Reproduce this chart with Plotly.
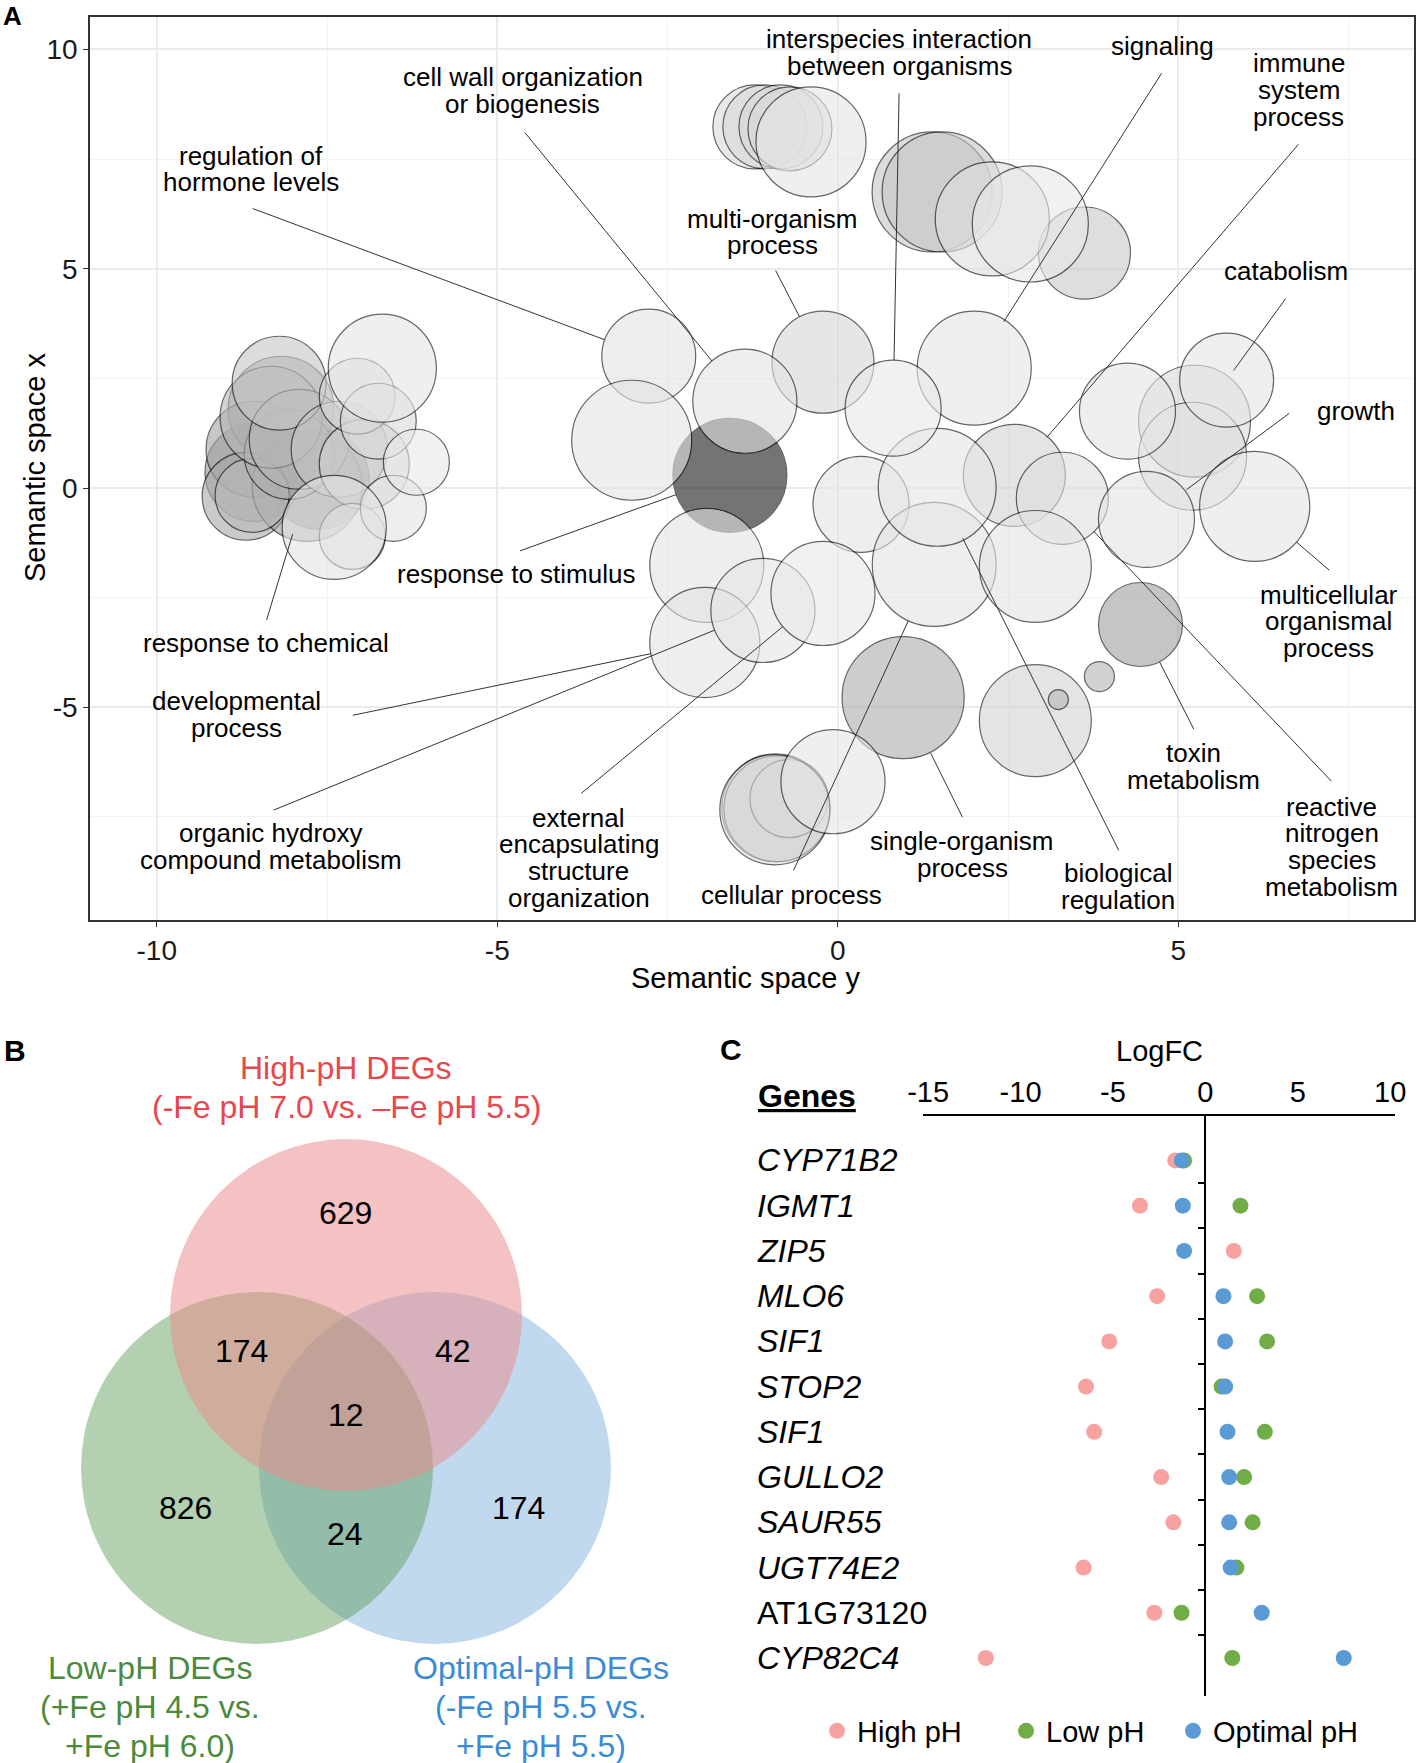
import plotly.graph_objects as go

W, H = 1418, 1763
FONT = "Liberation Sans, Arial, Helvetica, sans-serif"

# ---------------- Panel A data (REVIGO semantic space) ----------------
term_ids = ["B17", "L16", "L9", "B33", "B38", "L3", "L8", "L10", "L12", "B6", "B7", "L11", "L20", "B10",
            "L4", "L17", "B39", "L2", "L18", "B25", "B35", "B36", "B37", "B40", "B1", "B2", "B3", "B4",
            "B14", "L19", "B30", "B42", "L5", "L6", "B8", "B26", "B32", "B41", "L14", "L15", "B11", "B12",
            "B13", "B18", "B19", "B22", "B24", "B27", "B34", "L1", "L13", "B5", "B16", "B20", "B23", "B28",
            "B29", "B31", "B43", "B9", "B15", "B21", "L7"]
sem_space_y = [-1.585, -7.615, -8.571, 0.959, 4.444, -8.174, -8.571, -8.688, -7.791, 1.385, 1.532, -8.600,
               -8.056, 3.621, -8.321, -7.909, -0.909, -8.203, -7.321, 2.591, 2.900, 3.238, 3.841, -0.894,
               -1.218, -1.071, -0.835, -0.703, -0.218, -6.953, 5.238, -0.718, -7.056, -6.747, 2.268, 3.297,
               5.209, -0.924, -7.129, -6.526, -2.776, -3.026, -1.365, -1.924, -1.953, 0.341, 1.415, 4.532,
               2.900, -6.688, -7.394, -0.394, 2.003, -1.100, 1.459, 6.121, 4.253, 5.709, -0.071, 2.826,
               0.812, -0.218, -6.188]
sem_space_x = [0.290, 0.199, 0.358, -4.779, -3.112, 1.797, 0.884, -0.189, 0.039, 6.751, 6.751, -0.167,
               0.769, 5.358, 1.614, 1.112, -7.290, 2.390, 0.884, 0.290, -5.304, -4.824, -4.299, -7.313,
               8.235, 8.235, 8.235, 8.190, 2.870, 0.541, 1.523, -7.084, 2.094, 1.523, 6.135, -0.235,
               0.724, -7.336, -1.103, -0.463, 3.007, 1.089, 1.979, -1.765, -3.523, -0.372, -1.742, -0.715,
               -1.788, 2.733, -0.897, 7.893, 2.733, -2.792, 0.016, -0.418, 1.751, 2.459, -6.696, 6.021,
               1.820, -2.404, 0.587]
log_size = [3.80, 3.33, 3.27, 4.07, 2.80, 3.53, 3.20, 2.93, 3.67, 4.00, 4.00, 2.47, 3.00, 3.07, 3.40,
            3.33, 3.60, 3.13, 3.20, 3.40, 3.73, 0.67, 1.00, 3.53, 2.80, 2.80, 2.80, 2.80, 3.40, 3.00,
            3.73, 2.60, 2.53, 2.53, 3.80, 3.07, 3.60, 3.67, 2.20, 2.20, 3.13, 4.00, 3.47, 3.80, 3.67,
            3.20, 4.13, 3.20, 3.73, 3.60, 3.47, 3.67, 3.80, 3.47, 3.93, 3.67, 3.20, 3.13, 3.47, 3.87,
            3.20, 3.47, 2.20]
log10_pvalue = [-12.0, -7.00, -5.50, -4.30, -5.00, -4.50, -4.80, -4.50, -5.00, -3.00, -3.00, -3.50,
                -4.20, -2.80, -3.80, -3.80, -2.92, -3.00, -3.00, -2.25, -2.25, -3.80, -3.90, -2.50,
                -1.92, -1.92, -1.92, -1.92, -2.09, -2.40, -1.92, -2.25, -2.00, -1.90, -1.67, -1.67,
                -1.67, -1.67, -1.60, -1.42, -1.42, -1.42, -1.42, -1.42, -1.42, -1.42, -1.42, -1.42,
                -1.42, -1.25, -1.35, -1.25, -1.25, -1.25, -1.25, -1.25, -1.25, -1.25, -1.25, -1.09,
                -1.09, -1.09, -1.09]

# term labels: text lines, label centre, leader-line start, target bubble, gap at bubble (px)
go_labels = [
    dict(text=["regulation of", "hormone levels"], pos=(-8.615, 7.276), tail=(-8.615, 6.386), target="B11", gap=47),
    dict(text=["cell wall organization", "or biogenesis"], pos=(-4.629, 9.057), tail=(-4.615, 8.144), target="B13", gap=52),
    dict(text=["multi-organism", "process"], pos=(-0.953, 5.838), tail=(-0.924, 4.993), target="B14", gap=51),
    dict(text=["interspecies interaction", "between organisms"], pos=(0.900, 9.925), tail=(0.900, 9.034), target="B15", gap=48),
    dict(text=["signaling"], pos=(4.768, 10.084), tail=(4.768, 9.491), target="B16", gap=55),
    dict(text=["immune", "system", "process"], pos=(6.768, 9.080), tail=(6.782, 7.870), target="B25", gap=50),
    dict(text=["catabolism"], pos=(6.576, 4.947), tail=(6.591, 4.354), target="B31", gap=12),
    dict(text=["growth"], pos=(7.606, 1.751), tail=(6.650, 1.728), target="B27", gap=50),
    dict(text=["multicellular", "organismal", "process"], pos=(7.209, -3.043), tail=(7.238, -1.902), target="B28", gap=55),
    dict(text=["toxin", "metabolism"], pos=(5.224, -6.354), tail=(5.238, -5.532), target="B38", gap=42),
    dict(text=["reactive", "nitrogen", "species", "metabolism"], pos=(7.253, -8.180), tail=(7.268, -6.719), target="B26", gap=46),
    dict(text=["biological", "regulation"], pos=(4.121, -9.094), tail=(4.135, -8.295), target="B23", gap=57),
    dict(text=["single-organism", "process"], pos=(1.826, -8.363), tail=(1.841, -7.541), target="B33", gap=62),
    dict(text=["cellular process"], pos=(-0.674, -9.276), tail=(-0.659, -8.751), target="B24", gap=62),
    dict(text=["external", "encapsulating", "structure", "organization"], pos=(-3.806, -8.432), tail=(-3.791, -6.993), target="B21", gap=52),
    dict(text=["organic hydroxy", "compound metabolism"], pos=(-8.321, -8.180), tail=(-8.306, -7.358), target="B20", gap=52),
    dict(text=["developmental", "process"], pos=(-8.835, -5.167), tail=(-7.144, -5.189), target="B19", gap=55),
    dict(text=["response to chemical"], pos=(-8.394, -3.523), tail=(-8.394, -3.043), target="L12", gap=50),
    dict(text=["response to stimulus"], pos=(-4.718, -1.970), tail=(-4.688, -1.445), target="B17", gap=57),
]

# ---------------- Panel B data (Venn) ----------------
venn_counts = {"high": 629, "high_low": 174, "high_opt": 42, "all": 12,
               "low": 826, "low_opt": 24, "opt": 174}
venn_titles = {
    "high": ["High-pH DEGs", "(-Fe pH 7.0 vs. \u2013Fe pH 5.5)"],
    "low": ["Low-pH DEGs", "(+Fe pH 4.5 vs.", "+Fe pH 6.0)"],
    "opt": ["Optimal-pH DEGs", "(-Fe pH 5.5 vs.", "+Fe pH 5.5)"],
}

# ---------------- Panel C data (LogFC) ----------------
genes = ["CYP71B2", "IGMT1", "ZIP5", "MLO6", "SIF1", "STOP2", "SIF1", "GULLO2", "SAUR55", "UGT74E2",
         "AT1G73120", "CYP82C4"]
gene_italic = [True, True, True, True, True, True, True, True, True, True, False, True]
logfc_high = [-1.63, -3.54, 1.54, -2.61, -5.20, -6.46, -6.02, -2.39, -1.73, -6.59, -2.76, -11.88]
logfc_low = [-1.15, 1.90, None, 2.80, 3.34, 0.88, 3.22, 2.10, 2.56, 1.68, -1.29, 1.46]
logfc_opt = [-1.27, -1.22, -1.15, 0.98, 1.07, 1.07, 1.20, 1.29, 1.29, 1.37, 3.05, 7.49]

# ---------------- layout helpers ----------------
def px(x):
    return x / W


def py(y):
    return 1 - y / H


fig = go.Figure()

# ---- Panel A bubbles ----
fig.add_trace(go.Scatter(
    x=sem_space_y, y=sem_space_x, mode="markers", xaxis="x", yaxis="y",
    marker=dict(size=log_size, sizemode="diameter", sizeref=1 / 30,
                color=log10_pvalue, cmin=-12, cmax=-1,
                colorscale=[[0, "rgb(25,25,25)"], [1, "rgb(235,235,235)"]],
                opacity=0.6, line=dict(color="black", width=1.2)),
    showlegend=False, hoverinfo="skip"))

annotations = []
LH = 26.7
for lab in go_labels:
    n = len(lab["text"])
    for i, line in enumerate(lab["text"]):
        annotations.append(dict(x=lab["pos"][0], y=lab["pos"][1], xref="x", yref="y", text=line,
                                showarrow=False, yshift=((n - 1) / 2 - i) * LH,
                                font=dict(size=26, color="black", family=FONT),
                                xanchor="center", yanchor="middle"))
    k = term_ids.index(lab["target"])
    annotations.append(dict(x=sem_space_y[k], y=sem_space_x[k], xref="x", yref="y",
                            ax=lab["tail"][0], ay=lab["tail"][1], axref="x", ayref="y",
                            text="", showarrow=True, arrowhead=0, arrowwidth=1,
                            arrowcolor="#333333", standoff=lab["gap"]))

# axis titles and panel letter (A)
annotations += [
    dict(x=px(746), y=py(978), xref="paper", yref="paper", text="Semantic space y", showarrow=False,
         xanchor="center", yanchor="middle", font=dict(size=29, color="black")),
    dict(x=px(35), y=py(468), xref="paper", yref="paper", text="Semantic space x", showarrow=False,
         xanchor="center", yanchor="middle", textangle=-90, font=dict(size=29, color="black")),
    dict(x=px(1), y=py(16), xref="paper", yref="paper", text="<b>A</b>", showarrow=False,
         xanchor="left", yanchor="middle", font=dict(size=26, color="black")),
]

# ---- Panel B: Venn ----
venn_circles = [  # (set, centre x, centre y, radius) in panel pixels, drawn bottom-up
    ("opt", 435, 1468, 176, "rgba(131,179,223,0.5)"),
    ("low", 257, 1468, 176, "rgba(97,159,93,0.48)"),
    ("high", 346, 1315, 176, "rgba(234,138,138,0.52)"),
]
shapes = []
for name, cx, cy, r, col in venn_circles:
    shapes.append(dict(type="circle", xref="x2", yref="y2", x0=cx - r, x1=cx + r, y0=cy - r, y1=cy + r,
                       fillcolor=col, line=dict(width=0), layer="below"))

count_pos = {"high": (345, 1213), "high_low": (241, 1351), "high_opt": (453, 1351), "all": (346, 1415),
             "low": (185, 1508), "low_opt": (345, 1534), "opt": (518, 1508)}
for key, val in venn_counts.items():
    annotations.append(dict(x=count_pos[key][0], y=count_pos[key][1], xref="x2", yref="y2",
                            text=str(val), showarrow=False, xanchor="center", yanchor="middle",
                            font=dict(size=32, color="black")))

title_pos = {"high": (346, 1068), "low": (150, 1668), "opt": (541, 1668)}
title_col = {"high": "#E8474D", "low": "#4B8A3D", "opt": "#3B8AD6"}
for key, lines in venn_titles.items():
    for i, line in enumerate(lines):
        annotations.append(dict(x=title_pos[key][0], y=title_pos[key][1] + i * 39, xref="x2", yref="y2",
                                text=line, showarrow=False, xanchor="center", yanchor="middle",
                                font=dict(size=32, color=title_col[key])))
annotations.append(dict(x=px(2), y=py(1050), xref="paper", yref="paper", text="<b>B</b>", showarrow=False,
                        xanchor="left", yanchor="middle", font=dict(size=30, color="black")))

# ---- Panel C: LogFC dot plot ----
rows = list(range(1, len(genes) + 1))
series = [("High pH", logfc_high, "#F7A1A1", "legend"), ("Low pH", logfc_low, "#70AD47", "legend2"),
          ("Optimal pH", logfc_opt, "#5B9BD5", "legend3")]
for name, vals, col, leg in series:
    fig.add_trace(go.Scatter(x=vals, y=rows, mode="markers", name=name, xaxis="x3", yaxis="y3",
                             marker=dict(size=16, color=col), hoverinfo="skip", legend=leg))

for r, g, it in zip(rows, genes, gene_italic):
    annotations.append(dict(x=px(755), y=r, xref="paper", yref="y3", text=f"<i>{g}</i>" if it else g,
                            showarrow=False, xanchor="left", yanchor="middle",
                            font=dict(size=32, color="black")))
annotations += [
    dict(x=px(807), y=py(1096), xref="paper", yref="paper", text="<b><u>Genes</u></b>", showarrow=False,
         xanchor="center", yanchor="middle", font=dict(size=32, color="black")),
    dict(x=px(1159), y=py(1051), xref="paper", yref="paper", text="LogFC", showarrow=False,
         xanchor="center", yanchor="middle", font=dict(size=29, color="black")),
    dict(x=px(718), y=py(1049), xref="paper", yref="paper", text="<b>C</b>", showarrow=False,
         xanchor="left", yanchor="middle", font=dict(size=30, color="black")),
]

xc_dom = [px(923), px(1395.3)]
xc_rng = [-15.28, 10.28]
zero_pos = xc_dom[0] + (0 - xc_rng[0]) / (xc_rng[1] - xc_rng[0]) * (xc_dom[1] - xc_dom[0])
fc_ticks = [-15, -10, -5, 0, 5, 10]

legend_style = dict(orientation="h", yanchor="middle", xanchor="left", y=py(1731),
                    font=dict(size=29, color="black"), bgcolor="rgba(0,0,0,0)")

fig.update_layout(
    width=W, height=H, margin=dict(l=0, r=0, t=0, b=0, pad=0, autoexpand=False),
    paper_bgcolor="white", plot_bgcolor="white",
    font=dict(family=FONT, color="black"),
    xaxis=dict(domain=[px(90), px(1414)], range=[-10.98, 8.46], anchor="y", automargin=False,
               tickvals=[-10, -5, 0, 5], ticktext=["-10", "-5", "0", "5"],
               ticks="outside", ticklen=5, tickcolor="#333333", tickwidth=1.3,
               tickfont=dict(size=28, color="#1a1a1a"),
               showgrid=True, gridcolor="#ebebeb", gridwidth=1.6,
               minor=dict(tickvals=[-7.5, -2.5, 2.5, 7.5], showgrid=True, gridcolor="#f2f2f2", gridwidth=1.2),
               showline=True, mirror=True, linecolor="#333333", linewidth=1.5, zeroline=False),
    yaxis=dict(domain=[py(920), py(17)], range=[-9.85, 10.74], anchor="x", automargin=False,
               tickvals=[-5, 0, 5, 10], ticktext=["-5", "0", "5", "10"],
               ticks="outside", ticklen=5, tickcolor="#333333", tickwidth=1.3,
               tickfont=dict(size=28, color="#1a1a1a"),
               showgrid=True, gridcolor="#ebebeb", gridwidth=1.6,
               minor=dict(tickvals=[-7.5, -2.5, 2.5, 7.5], showgrid=True, gridcolor="#f2f2f2", gridwidth=1.2),
               showline=True, mirror=True, linecolor="#333333", linewidth=1.5, zeroline=False),
    xaxis2=dict(domain=[0, px(710)], range=[0, 710], anchor="y2", visible=False, automargin=False),
    yaxis2=dict(domain=[0, py(1020)], range=[H, 1020], anchor="x2", visible=False, automargin=False),
    xaxis3=dict(domain=xc_dom, range=xc_rng, anchor="y3", side="top", automargin=False,
                tickvals=fc_ticks, ticktext=[str(t) for t in fc_ticks], ticks="",
                tickfont=dict(size=29, color="black"),
                showline=True, linecolor="black", linewidth=2, showgrid=False, zeroline=False),
    yaxis3=dict(domain=[py(1696), py(1116)], range=[12.84, 0.017], anchor="free", position=zero_pos,
                automargin=False,
                tickvals=[r + 0.5 for r in rows[:-1]], ticks="outside", ticklen=7, tickcolor="black",
                tickwidth=1.5, showticklabels=False, showline=True, linecolor="black", linewidth=1.5,
                showgrid=False, zeroline=False),
    legend=dict(legend_style, x=px(817)),
    legend2=dict(legend_style, x=px(1006)),
    legend3=dict(legend_style, x=px(1173)),
    shapes=shapes,
    annotations=annotations,
)

fig.write_html("out.html", config={"displayModeBar": False},
               post_script="document.body.style.margin='0px';document.body.style.overflow='hidden';")
